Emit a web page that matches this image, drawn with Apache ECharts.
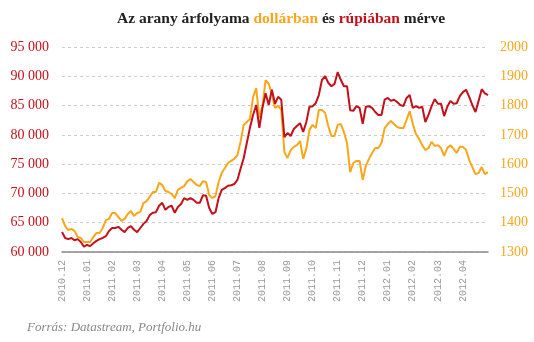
<!DOCTYPE html>
<html>
<head>
<meta charset="utf-8">
<script src="https://cdn.jsdelivr.net/npm/echarts@6/dist/echarts.min.js"></script>
<style>
  html, body { margin: 0; padding: 0; background: #fff; }
  #chart { width: 534px; height: 342px; }
</style>
</head>
<body>
<div id="chart"></div>
<script>
// Month labels along the time axis; each month holds 8 sample points
const months = ['2010.12','2011.01','2011.02','2011.03','2011.04','2011.05','2011.06','2011.07','2011.08',
  '2011.09','2011.10','2011.11','2011.12','2012.01','2012.02','2012.03','2012.04','2012.05'];
const pointsPerMonth = 8;
const pointCount = 137;

// Gold price in Indian rupees (left axis)
const inrPrice = [
  63400, 62400, 62200, 62400, 62000, 62200, 61700, 60900, 61200, 61000,
  61500, 61900, 62200, 62400, 62700, 63600, 64100, 64100, 64300, 63800,
  63400, 64100, 64400, 63800, 63400, 64100, 64800, 65300, 66300, 66700,
  66800, 67900, 68400, 67200, 67700, 67900, 66700, 67700, 68200, 69200,
  68900, 69200, 68900, 68400, 68400, 69700, 69600, 67500, 66500, 66800,
  69200, 70600, 70900, 71300, 71400, 71600, 72300, 74200, 76000, 78600,
  81200, 83400, 85100, 81200, 84600, 87100, 85100, 87700, 85300, 86500,
  86000, 79600, 80300, 79800, 81000, 81500, 82000, 80500, 82200, 84800,
  84900, 85400, 86800, 89400, 90000, 88900, 88300, 88700, 90700, 89400,
  88300, 88300, 84200, 84100, 84900, 84600, 81900, 84800, 84900, 84600,
  83900, 83400, 83400, 86000, 86300, 85800, 86000, 85600, 85100, 84900,
  86300, 86800, 84600, 84900, 84600, 84800, 82200, 83400, 84900, 86100,
  85300, 85300, 83200, 84800, 85800, 85300, 85400, 86600, 87300, 87700,
  86500, 85100, 83900, 85800, 87800, 87100, 86800
];

// Gold price in US dollars (right axis)
const usdPrice = [
  1416, 1389, 1375, 1379, 1372, 1351, 1348, 1334, 1334, 1334,
  1351, 1365, 1365, 1382, 1409, 1413, 1433, 1433, 1420, 1406,
  1413, 1430, 1440, 1423, 1433, 1437, 1467, 1474, 1488, 1505,
  1505, 1536, 1529, 1508, 1505, 1498, 1484, 1512, 1519, 1525,
  1542, 1549, 1539, 1529, 1525, 1542, 1539, 1495, 1484, 1491,
  1539, 1570, 1587, 1604, 1611, 1618, 1631, 1676, 1734, 1744,
  1754, 1829, 1860, 1758, 1799, 1887, 1874, 1840, 1792, 1799,
  1785, 1641, 1621, 1648, 1659, 1665, 1679, 1618, 1652, 1717,
  1734, 1723, 1785, 1785, 1775, 1730, 1696, 1696, 1734, 1737,
  1710, 1672, 1573, 1604, 1611, 1611, 1546, 1594, 1618, 1638,
  1655, 1655, 1672, 1723, 1737, 1747, 1737, 1727, 1723, 1723,
  1751, 1781, 1737, 1703, 1686, 1665, 1648, 1655, 1676, 1662,
  1665, 1655, 1628, 1655, 1665, 1652, 1638, 1659, 1659, 1648,
  1614, 1590, 1566, 1570, 1590, 1566, 1573
];

const categories = [];
for (let i = 0; i < pointCount; i++) {
  categories.push(months[Math.floor(i / pointsPerMonth)] + '#' + (i % pointsPerMonth));
}

const RED = '#c4101a';
const ORANGE = '#f9a61a';
const serif = '"Liberation Serif", "DejaVu Serif", serif';

const chart = echarts.init(document.getElementById('chart'), null, { renderer: 'canvas' });

chart.setOption({
  animation: false,
  backgroundColor: '#fff',
  title: [{
    left: 112,
    top: 6,
    text: '{a|Az arany árfolyama }{b|dollárban}{a| és }{c|rúpiában}{a| mérve}',
    textStyle: {
      rich: {
        a: { fontFamily: serif, fontWeight: 'bold', fontSize: 15.5, color: '#222' },
        b: { fontFamily: serif, fontWeight: 'bold', fontSize: 15.5, color: ORANGE },
        c: { fontFamily: serif, fontWeight: 'bold', fontSize: 15.5, color: RED }
      }
    }
  }, {
    left: 22,
    top: 316,
    text: 'Forrás: Datastream, Portfolio.hu',
    textStyle: { fontFamily: serif, fontStyle: 'italic', fontWeight: 'normal', fontSize: 13, color: '#888' }
  }],
  grid: { left: 62, right: 46, top: 47, bottom: 90 },
  xAxis: {
    type: 'category',
    data: categories,
    boundaryGap: false,
    axisLine: { lineStyle: { color: '#888', width: 1.5 } },
    axisTick: { show: false },
    axisLabel: {
      rotate: 90,
      margin: 8,
      color: '#999',
      fontFamily: '"Liberation Mono", "DejaVu Sans Mono", monospace',
      fontSize: 10,
      interval: (idx) => idx % pointsPerMonth === 0 && idx < pointCount - 1,
      formatter: (v) => v.split('#')[0]
    },
    splitLine: { show: false }
  },
  yAxis: [{
    type: 'value',
    min: 60000,
    max: 95000,
    interval: 5000,
    axisLine: { show: false },
    axisTick: { show: false },
    axisLabel: {
      margin: 13,
      color: RED,
      fontFamily: serif,
      fontSize: 14,
      formatter: (v) => String(v).replace(/\B(?=(\d{3})+(?!\d))/g, ' ')
    },
    splitLine: { lineStyle: { color: '#ccc', type: [3, 3], width: 1 } }
  }, {
    type: 'value',
    min: 1300,
    max: 2000,
    interval: 100,
    position: 'right',
    axisLine: { show: false },
    axisTick: { show: false },
    axisLabel: {
      margin: 12,
      color: ORANGE,
      fontFamily: serif,
      fontSize: 14,
      formatter: (v) => String(v)
    },
    splitLine: { show: false }
  }],
  series: [{
    name: 'dollár',
    type: 'line',
    yAxisIndex: 1,
    data: usdPrice,
    showSymbol: false,
    lineStyle: { color: ORANGE, width: 2 },
    z: 2
  }, {
    name: 'rúpia',
    type: 'line',
    yAxisIndex: 0,
    data: inrPrice,
    showSymbol: false,
    lineStyle: { color: RED, width: 2 },
    z: 3
  }]
});
</script>
</body>
</html>
